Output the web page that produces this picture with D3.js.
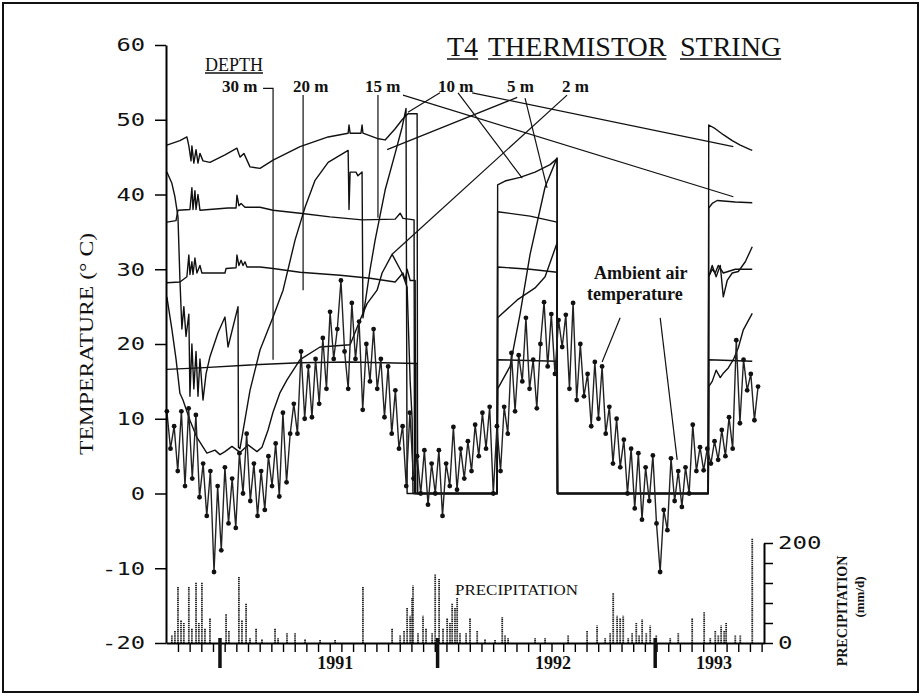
<!DOCTYPE html>
<html><head><meta charset="utf-8">
<script src="https://cdn.jsdelivr.net/npm/d3@7"></script>
<style>body{margin:0;background:#fff}svg{display:block}</style>
</head><body>
<svg id="c" width="922" height="696"></svg>
<script>
// ---------- DATA (time in decimal years, temperature in °C, precipitation in mm/d) ----------
const depth10 = [[1990.756,46.6],[1990.816,47.2],[1990.848,47.7],[1990.857,46.5],[1990.867,44.5],[1990.871,46.5],[1990.880,44.2],[1990.890,46.0],[1990.899,44.2],[1990.908,45.5],[1990.922,44.5],[1990.954,44.3],[1991.023,45.3],[1991.078,46.2],[1991.092,45.0],[1991.110,45.5],[1991.138,43.7],[1991.184,43.5],[1991.244,44.6],[1991.368,46.4],[1991.497,47.7],[1991.589,48.2],[1991.593,49.3],[1991.598,48.2],[1991.648,48.2],[1991.653,49.3],[1991.657,48.2],[1991.722,47.5],[1991.759,47.3],[1991.805,48.8],[1991.837,50.0],[1991.864,50.8],[1991.906,50.8],[1991.908,0],[1992.274,0],[1992.276,41.3],[1992.310,41.8],[1992.379,42.3],[1992.448,43.0],[1992.517,44.0],[1992.549,44.8],[1992.551,0],[1993.244,0],[1993.246,49.3],[1993.276,48.8],[1993.313,48.0],[1993.354,47.2],[1993.391,46.6],[1993.437,46.0],[1993.446,45.9]];
const depth15 = [[1990.756,36.3],[1990.798,36.5],[1990.807,37.9],[1990.862,38.0],[1990.871,40.9],[1990.876,38.0],[1990.885,40.5],[1990.890,38.0],[1990.899,40.0],[1990.908,37.9],[1991.037,38.2],[1991.074,38.2],[1991.078,39.9],[1991.087,38.5],[1991.097,38.8],[1991.115,38.3],[1991.184,38.3],[1991.244,37.9],[1991.368,37.5],[1991.506,37.0],[1991.653,36.6],[1991.805,36.7],[1991.828,37.5],[1991.841,36.8],[1991.892,36.6],[1991.894,0],[1992.274,0],[1992.276,37.7],[1992.425,37.1],[1992.549,36.3],[1992.551,0],[1993.244,0],[1993.246,38.2],[1993.262,38.8],[1993.285,39.2],[1993.368,39.0],[1993.446,38.9]];
const depth20 = [[1990.756,28.2],[1990.816,28.3],[1990.848,29.0],[1990.857,31.9],[1990.862,29.3],[1990.871,31.0],[1990.876,29.3],[1990.885,31.5],[1990.894,29.5],[1990.908,30.5],[1990.917,29.5],[1991.023,29.5],[1991.028,30.1],[1991.074,30.2],[1991.078,31.9],[1991.087,30.5],[1991.097,31.2],[1991.106,30.5],[1991.115,31.0],[1991.124,30.3],[1991.184,30.3],[1991.244,30.1],[1991.368,29.6],[1991.552,29.2],[1991.690,28.8],[1991.805,28.3],[1991.841,29.5],[1991.851,28.5],[1991.860,30.0],[1991.874,28.5],[1991.897,28.5],[1991.899,0],[1992.274,0],[1992.276,30.3],[1992.425,30.0],[1992.549,29.6],[1992.551,0],[1993.244,0],[1993.246,29.0],[1993.262,30.0],[1993.276,29.5],[1993.290,30.5],[1993.313,29.5],[1993.368,30.0],[1993.446,30.0]];
const depth30 = [[1990.756,16.6],[1990.908,16.8],[1991.138,17.2],[1991.368,17.5],[1991.598,17.6],[1991.906,17.4],[1991.908,0],[1992.274,0],[1992.276,17.9],[1992.549,17.7],[1992.551,0],[1993.244,0],[1993.246,17.9],[1993.446,17.7]];
const depth5 = [[1990.756,43.0],[1990.779,41.5],[1990.793,39.7],[1990.807,37.0],[1990.816,28.6],[1990.825,22.0],[1990.834,25.0],[1990.844,21.0],[1990.857,24.0],[1990.862,13.0],[1990.871,20.0],[1990.880,14.0],[1990.890,19.0],[1990.899,13.0],[1990.908,18.0],[1990.922,12.5],[1990.936,16.0],[1990.954,18.3],[1990.991,21.5],[1991.023,23.6],[1991.037,19.6],[1991.083,25.0],[1991.085,6.2],[1991.092,6.0],[1991.138,13.8],[1991.184,19.2],[1991.244,23.6],[1991.290,27.2],[1991.345,33.9],[1991.391,38.3],[1991.437,41.9],[1991.497,44.3],[1991.589,45.9],[1991.593,38.0],[1991.598,43.0],[1991.625,43.0],[1991.634,42.5],[1991.653,43.0],[1991.657,23.5],[1991.690,30.0],[1991.713,33.9],[1991.759,40.6],[1991.805,45.5],[1991.837,49.0],[1991.855,51.5],[1991.860,0],[1992.274,0],[1992.276,14.0],[1992.333,17.0],[1992.379,24.0],[1992.425,32.0],[1992.494,41.0],[1992.549,44.9],[1992.551,0],[1993.244,0],[1993.246,29.0],[1993.262,30.5],[1993.280,29.0],[1993.299,30.5],[1993.313,26.3],[1993.331,28.5],[1993.354,29.5],[1993.382,29.7],[1993.414,31.0],[1993.446,33.0]];
const depth2 = [[1990.756,26.3],[1990.779,22.0],[1990.798,18.0],[1990.816,13.4],[1990.830,12.5],[1990.862,9.8],[1990.894,7.5],[1990.940,5.4],[1990.977,5.8],[1991.000,5.2],[1991.023,5.6],[1991.055,6.3],[1991.092,5.5],[1991.129,6.5],[1991.170,5.6],[1991.193,6.2],[1991.221,8.5],[1991.244,10.9],[1991.276,13.5],[1991.308,15.2],[1991.368,17.9],[1991.460,19.6],[1991.598,19.9],[1991.644,23.2],[1991.676,25.4],[1991.722,27.2],[1991.745,29.5],[1991.791,32.0],[1991.837,29.5],[1991.860,27.6],[1991.874,15.0],[1991.883,10.0],[1991.887,0],[1992.274,0],[1992.276,23.5],[1992.366,25.9],[1992.448,27.5],[1992.494,29.0],[1992.549,33.5],[1992.551,0],[1993.244,0],[1993.246,14.3],[1993.262,15.0],[1993.280,16.5],[1993.299,15.5],[1993.313,16.1],[1993.336,16.8],[1993.359,17.9],[1993.382,19.5],[1993.405,21.9],[1993.446,24.1]];

// ambient air temperature, one reading every 1/60 year from airStart
const airStart = 1990.756;
const airStep = 1 / 60;
const airTemp = [11,6,9,3,11,1,11.4,2,10.5,-0.5,4,-3,3,-10.5,1,-7.6,3.5,-4,2,-4.6,5.4,0,8,-1,4,-3,3,-2.2,5,1,6.7,-0.4,10.8,1.5,8,12,8,19,10,17,10.2,18,12,20.8,14,24.3,18,22,28.5,19,14,25.5,18,23,11.2,20,15,22,14,18,10.2,17,8,13.8,6,9,1,10.8,2,5,0,5.8,-1.5,4,0,5.8,-3,4,1,8.9,0.5,6,2,7,3,9.2,5,10.8,6,11.6,0,9,3,11.6,8,18.8,11,18.5,15,23.5,14,17.9,11.4,20,25.6,17,24,16,23.2,19.6,23.9,14,25.5,12.5,20,13,16,9,17.6,10,17,8,11.6,4,10,3.5,7.2,0,6,-2,5.4,-3.5,3.5,-1,5.1,-4,-10.5,-2.2,-4.9,4.7,-1,3,-1.8,3.5,0,9.2,3,6.2,3.1,6,4,7,4.5,8.5,5,10.2,6,20.5,9.4,17.9,13.8,16,9.8,14.3];

// daily precipitation events
const precipT = [1990.779,1990.793,1990.807,1990.821,1990.834,1990.857,1990.871,1990.890,1990.903,1990.917,1990.931,1990.954,1991.028,1991.041,1991.087,1991.101,1991.120,1991.138,1991.166,1991.193,1991.253,1991.267,1991.308,1991.345,1991.391,1991.460,1991.529,1991.657,1991.791,1991.828,1991.846,1991.860,1991.874,1991.883,1991.887,1991.910,1991.933,1991.947,1991.975,1991.989,1992.007,1992.025,1992.044,1992.057,1992.067,1992.080,1992.090,1992.103,1992.131,1992.149,1992.182,1992.218,1992.264,1992.297,1992.310,1992.324,1992.448,1992.494,1992.600,1992.687,1992.733,1992.770,1992.793,1992.807,1992.825,1992.839,1992.853,1992.876,1992.894,1992.913,1992.926,1992.940,1992.959,1992.977,1993.005,1993.069,1993.106,1993.170,1993.225,1993.253,1993.276,1993.290,1993.303,1993.317,1993.326,1993.368,1993.391,1993.446];
const precipMM = [15,25,112,45,40,112,30,122,40,122,30,50,58,25,132,45,80,10,30,8,30,10,20,20,8,6,6,112,30,15,25,70,55,90,115,20,55,30,20,138,128,30,50,40,80,70,90,20,20,50,25,8,6,52,15,10,10,10,15,25,35,10,20,100,55,50,55,10,20,40,15,47,20,35,15,10,20,50,63,10,25,15,35,25,40,15,15,210];

const tempTicks = [-20,-10,0,10,20,30,40,50,60];
const precipTicks = [0,40,80,120,160,200];
const precipLabels = [0,200];
const yearTicks = [1991,1992,1993];
const yearLabels = [["1991",1991.53],["1992",1992.53],["1993",1993.27]];
const depthLabels = ["30 m","20 m","15 m","10 m","5 m","2 m"];

// ---------- LAYOUT ----------
const svg = d3.select('#c');
const x = d3.scaleLinear().domain([1990.752, 1993.5]).range([166, 764]);
const y = d3.scaleLinear().domain([-20, 60]).range([643, 45]);
const yP = d3.scaleLinear().domain([0, 200]).range([643, 543]);
const serif = "'Liberation Serif','Times New Roman',serif";
const mono = "'DejaVu Sans Mono',monospace";

svg.append('rect').attr('x', 3).attr('y', 3).attr('width', 915).attr('height', 689)
  .attr('fill', 'none').attr('stroke', '#111').attr('stroke-width', 2);

// precipitation bars
svg.append('g').selectAll('line').data(precipT).join('line')
  .attr('x1', d => x(d)).attr('x2', d => x(d))
  .attr('y1', yP(0)).attr('y2', (d, i) => yP(precipMM[i]))
  .attr('stroke', '#222').attr('stroke-width', 1.8).attr('stroke-dasharray', '1.4,0.7');

// thermistor series
const line = d3.line().x(d => x(d[0])).y(d => y(d[1]));
[depth30, depth20, depth15, depth10, depth5, depth2].forEach(s => {
  svg.append('path').datum(s).attr('d', line).attr('fill', 'none')
    .attr('stroke', '#111').attr('stroke-width', 1.4).attr('stroke-linejoin', 'round');
});

// air temperature
const air = airTemp.map((v, i) => [airStart + i * airStep, v]);
svg.append('path').datum(air).attr('d', line).attr('fill', 'none')
  .attr('stroke', '#222').attr('stroke-width', 1.4);
svg.append('g').selectAll('circle').data(air).join('circle')
  .attr('cx', d => x(d[0])).attr('cy', d => y(d[1])).attr('r', 2.4).attr('fill', '#111');

// left axis
const gL = svg.append('g').attr('transform', 'translate(166,0)');
gL.call(d3.axisLeft(y).tickValues(d3.range(-20, 61, 2)).tickSize(7).tickSizeOuter(0).tickFormat(''));
gL.call(d3.axisLeft(y).tickValues(tempTicks).tickSize(11).tickSizeOuter(0).tickPadding(10).tickFormat(d => String(d)));
gL.select('.domain').attr('stroke-width', 2);
gL.selectAll('line').attr('stroke-width', 1.5);
gL.selectAll('text').attr('font-family', mono).attr('font-size', 18).attr('fill', '#111')
  .attr('textLength', d => String(d).length * 14.3).attr('lengthAdjust', 'spacingAndGlyphs');

// bottom axis
const gB = svg.append('g').attr('transform', 'translate(0,643)');
gB.call(d3.axisBottom(x).tickValues(d3.range(1990.807, 1993.49, 0.05364)).tickSize(9).tickSizeOuter(0).tickFormat(''));
gB.select('.domain').attr('stroke-width', 2);
gB.selectAll('.tick line').attr('stroke-width', 1.4);
gB.selectAll('.yr').data(yearTicks).join('line').attr('class', 'yr')
  .attr('x1', d => x(d)).attr('x2', d => x(d)).attr('y1', -5).attr('y2', 25)
  .attr('stroke', '#111').attr('stroke-width', 3.5);
gB.selectAll('.yl').data(yearLabels).join('text').attr('class', 'yl')
  .attr('x', d => x(d[1])).attr('y', 26).attr('text-anchor', 'middle').attr('fill', '#111')
  .attr('font-family', serif).attr('font-weight', 'bold').attr('font-size', 18).text(d => d[0]);

// right precipitation axis
const gR = svg.append('g').attr('transform', 'translate(764,0)');
gR.call(d3.axisRight(yP).tickValues(precipTicks).tickSize(9).tickSizeOuter(0).tickPadding(5)
  .tickFormat(d => precipLabels.includes(d) ? String(d) : ''));
gR.select('.domain').attr('stroke-width', 2);
gR.selectAll('line').attr('stroke-width', 1.5);
gR.selectAll('text').attr('font-family', mono).attr('font-size', 18).attr('fill', '#111')
  .attr('textLength', d => precipLabels.includes(d) ? String(d).length * 14.5 : null)
  .attr('lengthAdjust', 'spacingAndGlyphs');

// axis titles
svg.append('text').attr('transform', 'translate(93,344) rotate(-90)').attr('text-anchor', 'middle')
  .attr('font-family', serif).attr('font-size', 18).attr('fill', '#111')
  .attr('textLength', 222).attr('lengthAdjust', 'spacingAndGlyphs').text('TEMPERATURE (° C)');
svg.append('text').attr('transform', 'translate(847,611) rotate(-90)').attr('text-anchor', 'middle')
  .attr('font-family', serif).attr('font-weight', 'bold').attr('font-size', 14).attr('fill', '#111').text('PRECIPITATION');
svg.append('text').attr('transform', 'translate(864,597) rotate(-90)').attr('text-anchor', 'middle')
  .attr('font-family', serif).attr('font-weight', 'bold').attr('font-size', 13).attr('fill', '#111').text('(mm/d)');

// title (underlined words)
[["T4", 447], ["THERMISTOR", 488], ["STRING", 680]].forEach(([w, px]) => {
  const t = svg.append('text').attr('x', px).attr('y', 56).attr('font-family', serif)
    .attr('font-size', 28).attr('fill', '#111').text(w);
  const len = t.node().getComputedTextLength();
  svg.append('line').attr('x1', px).attr('x2', px + len).attr('y1', 59).attr('y2', 59)
    .attr('stroke', '#111').attr('stroke-width', 1.5);
});

// DEPTH label
const dt = svg.append('text').attr('x', 205).attr('y', 71).attr('font-family', serif)
  .attr('font-size', 18).attr('fill', '#111').text('DEPTH');
svg.append('line').attr('x1', 205).attr('x2', 205 + dt.node().getComputedTextLength())
  .attr('y1', 73).attr('y2', 73).attr('stroke', '#111').attr('stroke-width', 1.4);

// depth labels
const depthPos = [222, 293, 365, 438, 507, 562];
depthLabels.forEach((l, i) => {
  svg.append('text').attr('x', depthPos[i]).attr('y', 92).attr('font-family', serif)
    .attr('font-weight', 'bold').attr('font-size', 17).attr('fill', '#111').text(l);
});

// leader lines (in data coordinates: [year, °C] pairs)
const leaders = [
  [[1991.198, 54.2], [1991.244, 54.2], [1991.244, 17.9]],
  [[1991.382, 53.3], [1991.382, 27.2]],
  [[1991.726, 53.3], [1991.726, 36.9]],
  [[1991.841, 53.3], [1993.359, 39.7]],
  [[1992.011, 53.6], [1991.864, 51.0]],
  [[1992.094, 53.6], [1992.389, 42.2]],
  [[1992.159, 53.6], [1993.359, 46.4]],
  [[1992.366, 53.0], [1991.768, 46.0]],
  [[1992.402, 52.9], [1992.503, 40.9]],
  [[1992.595, 53.3], [1991.791, 32.0]],
  [[1992.839, 23.5], [1992.756, 17.6]],
  [[1993.023, 23.5], [1993.101, 4.5]]
];
leaders.forEach(p => svg.append('path').datum(p).attr('d', line).attr('fill', 'none')
  .attr('stroke', '#111').attr('stroke-width', 1.2));

// annotations
svg.append('text').attr('x', 594).attr('y', 279).attr('font-family', serif).attr('font-weight', 'bold')
  .attr('font-size', 18).attr('fill', '#111').text('Ambient air');
svg.append('text').attr('x', 587).attr('y', 300).attr('font-family', serif).attr('font-weight', 'bold')
  .attr('font-size', 18).attr('fill', '#111').text('temperature');
svg.append('text').attr('x', 455).attr('y', 595).attr('font-family', serif)
  .attr('font-size', 14).attr('fill', '#111').attr('textLength', 123).attr('lengthAdjust', 'spacingAndGlyphs')
  .text('PRECIPITATION');
</script>
</body></html>
